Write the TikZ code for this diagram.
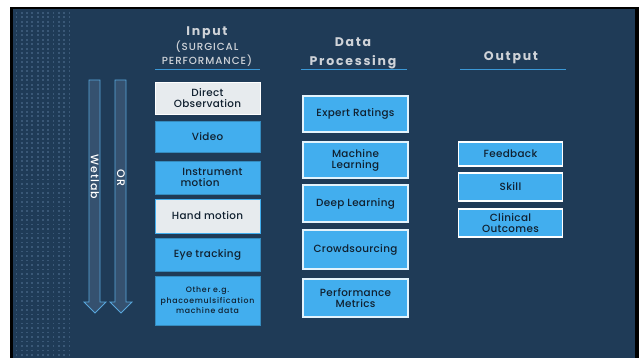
\documentclass[tikz,border=0pt]{standalone}
\usepackage{fontspec}
\setmainfont{Poppins}
\IfFontExistsTF{Poppins Medium}{%
  \newfontfamily\boxfont[LetterSpace=3]{Poppins Medium}%
  \newfontfamily\smallfont[LetterSpace=9]{Poppins Medium}%
  \newfontfamily\subfont[LetterSpace=9]{Poppins Medium}%
}{%
  \newfontfamily\boxfont[LetterSpace=3,FakeBold=0.6]{Poppins}%
  \newfontfamily\smallfont[LetterSpace=9,FakeBold=0.6]{Poppins}%
  \newfontfamily\subfont[LetterSpace=9,FakeBold=0.6]{Poppins}%
}
\newfontfamily\headfont[LetterSpace=14]{Poppins}
\definecolor{navy}{HTML}{1F3B57}
\definecolor{dotc}{HTML}{3A5877}
\definecolor{skyb}{HTML}{42AEEE}
\definecolor{paleg}{HTML}{E7EBEE}
\definecolor{linec}{HTML}{3B98D6}
\definecolor{ink}{HTML}{10202F}
\definecolor{headc}{HTML}{CFD3D8}
\definecolor{shaftc}{HTML}{35516F}
\tikzset{
  inbox/.style={draw=skyb!80!black, line width=0.8pt, fill=skyb, text=ink, font=\boxfont\fontsize{10.4}{11}\selectfont, align=center},
  graybox/.style={inbox, fill=paleg, draw=white},
  procbox/.style={draw=white!85!skyb, line width=1.2pt, fill=skyb, text=ink, font=\boxfont\fontsize{10.4}{11}\selectfont, align=center},
  outbox/.style={draw=white, line width=1.6pt, fill=skyb, text=ink, font=\boxfont\fontsize{10.4}{11}\selectfont, align=center},
  headtxt/.style={text=headc, font=\headfont\bfseries\fontsize{12.5}{14}\selectfont},
  subtxt/.style={text=headc, font=\subfont\fontsize{10.3}{14}\selectfont, align=center},
  rule/.style={draw=linec, line width=1pt},
  blockarrow/.style={draw=linec!85!white, line width=0.8pt, fill=shaftc},
  vlabel/.style={text=white, rotate=-90, font=\subfont\fontsize{11}{12}\selectfont}
}
\begin{document}
\begin{tikzpicture}[x=1pt,y=-1pt]
\useasboundingbox (0,0) rectangle (639,358);
% panel
\fill[white] (0,0) rectangle (639,358);
\fill[black] (10,7) rectangle (639,358);
\fill[navy] (13,9.5) rectangle (635,358);
% dotted strip
\foreach \i in {0,...,10} {
  \foreach \j in {0,...,76} {
    \fill[dotc] ({15.5+\i*5.3},{12+\j*4.5}) rectangle ++(1.8,1.8);
  }
}
% column headings
\node[headtxt] (hin) at (207,33) {Input};
\node[subtxt] (hsub) at (207,54) {(SURGICAL\\PERFORMANCE)};
\node[headtxt] (hdp1) at (353,42) {Data};
\node[headtxt] (hdp2) at (353,62) {Processing};
\node[headtxt] (hout) at (511,58) {Output};
\coordinate (ia) at (155,70); \coordinate (ib) at (260,70);
\coordinate (pa) at (301,70); \coordinate (pb) at (407,70);
\coordinate (oa) at (460,70); \coordinate (ob) at (566,70);
\draw[rule] (ia) -- (ib);
\draw[rule] (pa) -- (pb);
\draw[rule] (oa) -- (ob);
% block arrows
\draw[blockarrow] (89,80) -- (100,80) -- (100,302) -- (106,302) -- (95,313) -- (84,302) -- (89,302) -- cycle;
\draw[blockarrow] (115,80) -- (126,80) -- (126,302) -- (132,302) -- (121,313) -- (110,302) -- (115,302) -- cycle;
\node[vlabel] (wet) at (95,177) {Wetlab};
\node[vlabel] (orl) at (121,178) {OR};
% input column
\node[graybox, minimum width=105pt, minimum height=32pt] (dobs) at (207.5,98) {Direct\\Observation};
\node[inbox, minimum width=105pt, minimum height=31pt] (vid) at (207.5,136.5) {Video};
\node[inbox, minimum width=105pt, minimum height=33pt] (inst) at (207.5,177.5) {};
\node[text=ink, font=\boxfont\fontsize{10.4}{11}\selectfont, align=left, anchor=west] (instt) at (177,177.5) {\,Instrument\\motion};
\node[graybox, draw=skyb, line width=1pt, minimum width=105pt, minimum height=34pt] (hand) at (207.5,216) {Hand motion};
\node[inbox, minimum width=105pt, minimum height=33pt] (eye) at (207.5,254.5) {Eye tracking};
\node[inbox, minimum width=105pt, minimum height=49pt, font=\smallfont\fontsize{7.8}{10.5}\selectfont] (oth) at (207.5,300.5) {Other e.g.\\phacoemulsification\\machine data};
% processing column
\node[procbox, minimum width=105pt, minimum height=36pt] (exp) at (355.5,114) {Expert Ratings};
\node[procbox, minimum width=105pt, minimum height=36pt] (ml) at (355.5,160) {Machine\\Learning};
\node[procbox, minimum width=105pt, minimum height=37pt] (dl) at (355.5,203.5) {Deep Learning};
\node[procbox, minimum width=105pt, minimum height=39pt] (crowd) at (355.5,249.5) {Crowdsourcing};
\node[procbox, minimum width=105pt, minimum height=38pt] (perf) at (355.5,298) {Performance\\Metrics};
% output column
\node[outbox, minimum width=104pt, minimum height=24pt] (fb) at (510.5,154) {Feedback};
\node[outbox, minimum width=104pt, minimum height=28pt] (sk) at (510.5,187) {Skill};
\node[outbox, minimum width=104pt, minimum height=28pt] (co) at (510.5,223) {Clinical\\Outcomes};
\end{tikzpicture}
\end{document}
